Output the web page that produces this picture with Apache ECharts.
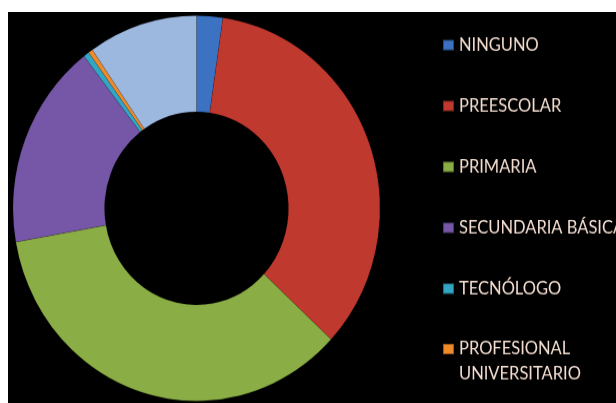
<!DOCTYPE html>
<html>
<head>
<meta charset="utf-8">
<script src="https://cdn.jsdelivr.net/npm/echarts@6/dist/echarts.min.js"></script>
<style>
  html, body { margin: 0; padding: 0; background: #ffffff; width: 616px; height: 403px; overflow: hidden; }
  #bg { position: absolute; left: 8px; top: 12px; width: 608px; height: 391px; background: #000000; overflow: hidden; }
  #chart { width: 608px; height: 372px; transform: scaleY(1.05); transform-origin: 0 0; }
</style>
</head>
<body>
<div id="bg"><div id="chart"></div></div>
<script>
// Categories (clockwise from 12 o'clock); the last slice has no visible legend entry
const categories = ['NINGUNO', 'PREESCOLAR', 'PRIMARIA', 'SECUNDARIA BÁSICA', 'TECNÓLOGO', 'PROFESIONAL UNIVERSITARIO', 'OTRO'];
// Percent shares
const values = [2.3, 34.6, 35.3, 17.3, 0.5, 0.4, 9.6];
const colors = ['#3C72C2', '#C0392F', '#8AAD45', '#7656A7', '#33A6C6', '#EE8A2A', '#9DB8DF'];
const legendMain = categories.slice(0, 5);
const legendLast = [categories[5]];

const chart = echarts.init(document.getElementById('chart'), null, { renderer: 'canvas' });
const textStyle = { color: '#F3DDD0', fontFamily: 'Lato', fontSize: 16.5, lineHeight: 20 };
chart.setOption({
  animation: false,
  backgroundColor: 'transparent',
  legend: [
    {
      orient: 'vertical', left: 429, top: 16.5, itemGap: 38,
      itemWidth: 11, itemHeight: 10, icon: 'rect', selectedMode: false,
      data: legendMain, textStyle: textStyle
    },
    {
      orient: 'vertical', left: 429, top: 280, itemGap: 0,
      itemWidth: 11, itemHeight: 10, icon: 'rect', selectedMode: false,
      data: legendLast,
      formatter: function (n) { return '\n' + n.replace(' ', '\n'); },
      textStyle: Object.assign({}, textStyle, { lineHeight: 24 })
    }
  ],
  series: [{
    type: 'pie',
    center: [188.5, 187],
    radius: [92, 183.5],
    startAngle: 90,
    clockwise: true,
    label: { show: false },
    labelLine: { show: false },
    emphasis: { disabled: true },
    itemStyle: { borderColor: 'rgba(0,0,0,0.35)', borderWidth: 0.3 },
    data: categories.map(function (c, i) {
      return { name: c, value: values[i], itemStyle: { color: colors[i] } };
    })
  }]
});
</script>
</body>
</html>
